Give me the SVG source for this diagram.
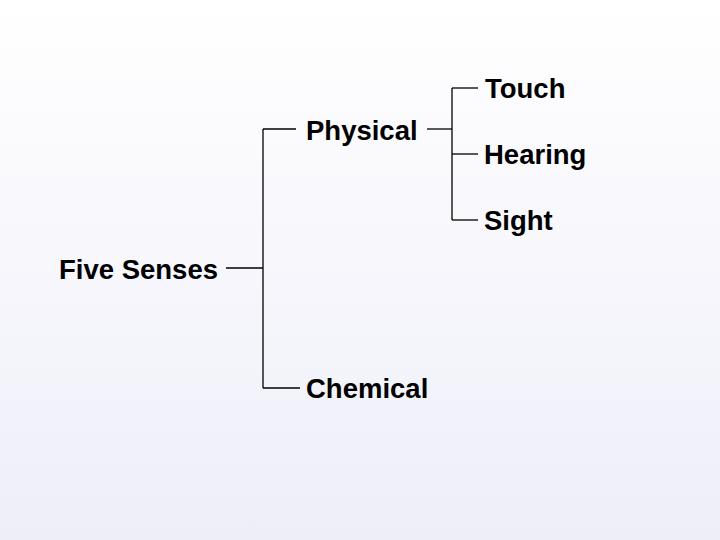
<svg xmlns="http://www.w3.org/2000/svg" width="720" height="540" viewBox="0 0 720 540">
<defs>
<linearGradient id="bg" x1="0" y1="0" x2="0" y2="1">
<stop offset="0" stop-color="#FFFFFF"/>
<stop offset="1" stop-color="#EEEEF9"/>
</linearGradient>
</defs>
<style>
.lbl { font-family: "Liberation Sans", Arial, sans-serif; font-weight: bold; font-size: 27.5px; fill: #000; }
.conn path { fill: none; stroke: #000; stroke-width: 1.3; }
</style>
<rect x="0" y="0" width="720" height="540" fill="url(#bg)"/>
<g class="conn" id="connectors">
<path d="M226,268 H263"/>
<path d="M263,129 V388"/>
<path d="M263,129 H296"/>
<path d="M263,388 H300"/>
<path d="M427,129 H452"/>
<path d="M452,88 V220"/>
<path d="M452,88 H478"/>
<path d="M452,154 H478"/>
<path d="M452,220 H478"/>
</g>
<g id="five-senses"><text class="lbl" x="59" y="278.5">Five Senses</text></g>
<g id="physical"><text class="lbl" x="306" y="140">Physical</text></g>
<g id="chemical"><text class="lbl" x="306" y="398">Chemical</text></g>
<g id="touch"><text class="lbl" x="485" y="97.5">Touch</text></g>
<g id="hearing"><text class="lbl" x="484" y="163.5">Hearing</text></g>
<g id="sight"><text class="lbl" x="484" y="230">Sight</text></g>
</svg>
